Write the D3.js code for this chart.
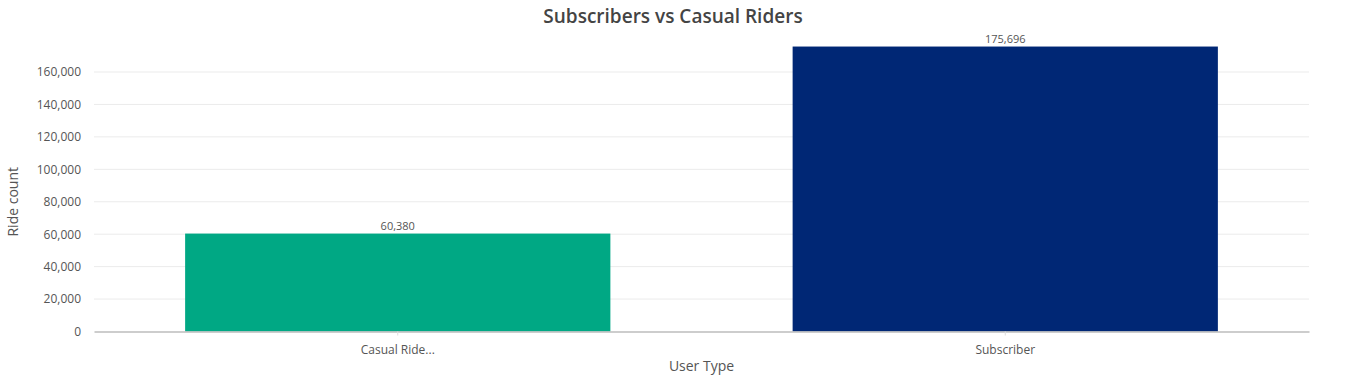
<!DOCTYPE html>
<html>
<head>
<meta charset="utf-8">
<script src="https://cdn.jsdelivr.net/npm/d3@7"></script>
<style>
  body { margin: 0; background: #fff; }
  text { font-family: "Open Sans", "Noto Sans", sans-serif; }
</style>
</head>
<body>
<div id="chart"></div>
<script>
// chart size and margins
const width = 1347;
const height = 376;
const margin = {left: 94, right: 38, top: 45, bottom: 45};

// data
const categories = ["Casual Riders", "Subscriber"];
const tickLabels = ["Casual Ride...", "Subscriber"];
const rideCounts = [60380, 175696];
const barColors = ["#00A884", "#002775"];
const yTicks = [0, 20000, 40000, 60000, 80000, 100000, 120000, 140000, 160000];

const svg = d3.select("#chart")
  .append("svg")
  .attr("width", width)
  .attr("height", height);

// 160,000 sits at y=72, 0 at y=331.5
const yScale = d3.scaleLinear()
  .domain([0, 160000])
  .range([331.5, 72]);

const xScale = d3.scaleBand()
  .domain(d3.range(categories.length))
  .range([margin.left, width - margin.right])
  .paddingInner(0.3)
  .paddingOuter(0.15);

// gridlines
svg.append("g")
  .selectAll("line")
  .data(yTicks.slice(1))
  .enter()
  .append("line")
    .attr("x1", margin.left)
    .attr("x2", width - margin.right)
    .attr("y1", d => yScale(d))
    .attr("y2", d => yScale(d))
    .attr("stroke", "#ebebeb")
    .attr("stroke-width", 1);

// y axis
const yAxis = svg.append("g")
  .attr("transform", `translate(${margin.left - 13}, 0)`)
  .call(d3.axisLeft(yScale).tickValues(yTicks).tickSize(0).tickFormat(d3.format(",")));
yAxis.select(".domain").remove();
yAxis.selectAll("text")
  .attr("font-size", "12px")
  .attr("fill", "#555")
  .attr("x", 0)
  .attr("font-family", "'Open Sans', sans-serif");

// bars
svg.selectAll(".bar")
  .data(rideCounts)
  .enter()
  .append("rect")
    .attr("class", "bar")
    .attr("x", (d, i) => xScale(i))
    .attr("y", d => yScale(d))
    .attr("width", xScale.bandwidth())
    .attr("height", d => yScale(0) - yScale(d))
    .attr("fill", (d, i) => barColors[i]);

// value labels
svg.selectAll(".val")
  .data(rideCounts)
  .enter()
  .append("text")
    .attr("class", "val")
    .attr("x", (d, i) => xScale(i) + xScale.bandwidth() / 2)
    .attr("y", d => yScale(d) - 4)
    .attr("text-anchor", "middle")
    .attr("font-size", "11px")
    .attr("fill", "#555")
    .text(d => d3.format(",")(d));

// x axis
const xAxis = svg.append("g")
  .attr("transform", `translate(0, ${yScale(0)})`)
  .call(d3.axisBottom(xScale).tickSize(4).tickSizeOuter(0).tickFormat(i => tickLabels[i]));
xAxis.select(".domain")
  .attr("stroke", "#bdbdbd")
  .attr("stroke-width", 1.5);
xAxis.selectAll(".tick line").attr("stroke", "#ddd");
xAxis.selectAll("text")
  .attr("font-size", "12px")
  .attr("fill", "#555")
  .attr("dy", "1.25em")
  .attr("font-family", "'Open Sans', sans-serif");

// title
svg.append("text")
  .attr("x", 673)
  .attr("y", 23)
  .attr("text-anchor", "middle")
  .attr("font-size", "19px")
  .attr("font-weight", 600)
  .attr("fill", "#444")
  .text("Subscribers vs Casual Riders");

// axis titles
svg.append("text")
  .attr("x", (margin.left + width - margin.right) / 2)
  .attr("y", 371)
  .attr("text-anchor", "middle")
  .attr("font-size", "14px")
  .attr("fill", "#555")
  .text("User Type");

svg.append("text")
  .attr("transform", `translate(18, ${yScale(80000)}) rotate(-90)`)
  .attr("text-anchor", "middle")
  .attr("font-size", "14px")
  .attr("fill", "#555")
  .text("Ride count");
</script>
</body>
</html>
